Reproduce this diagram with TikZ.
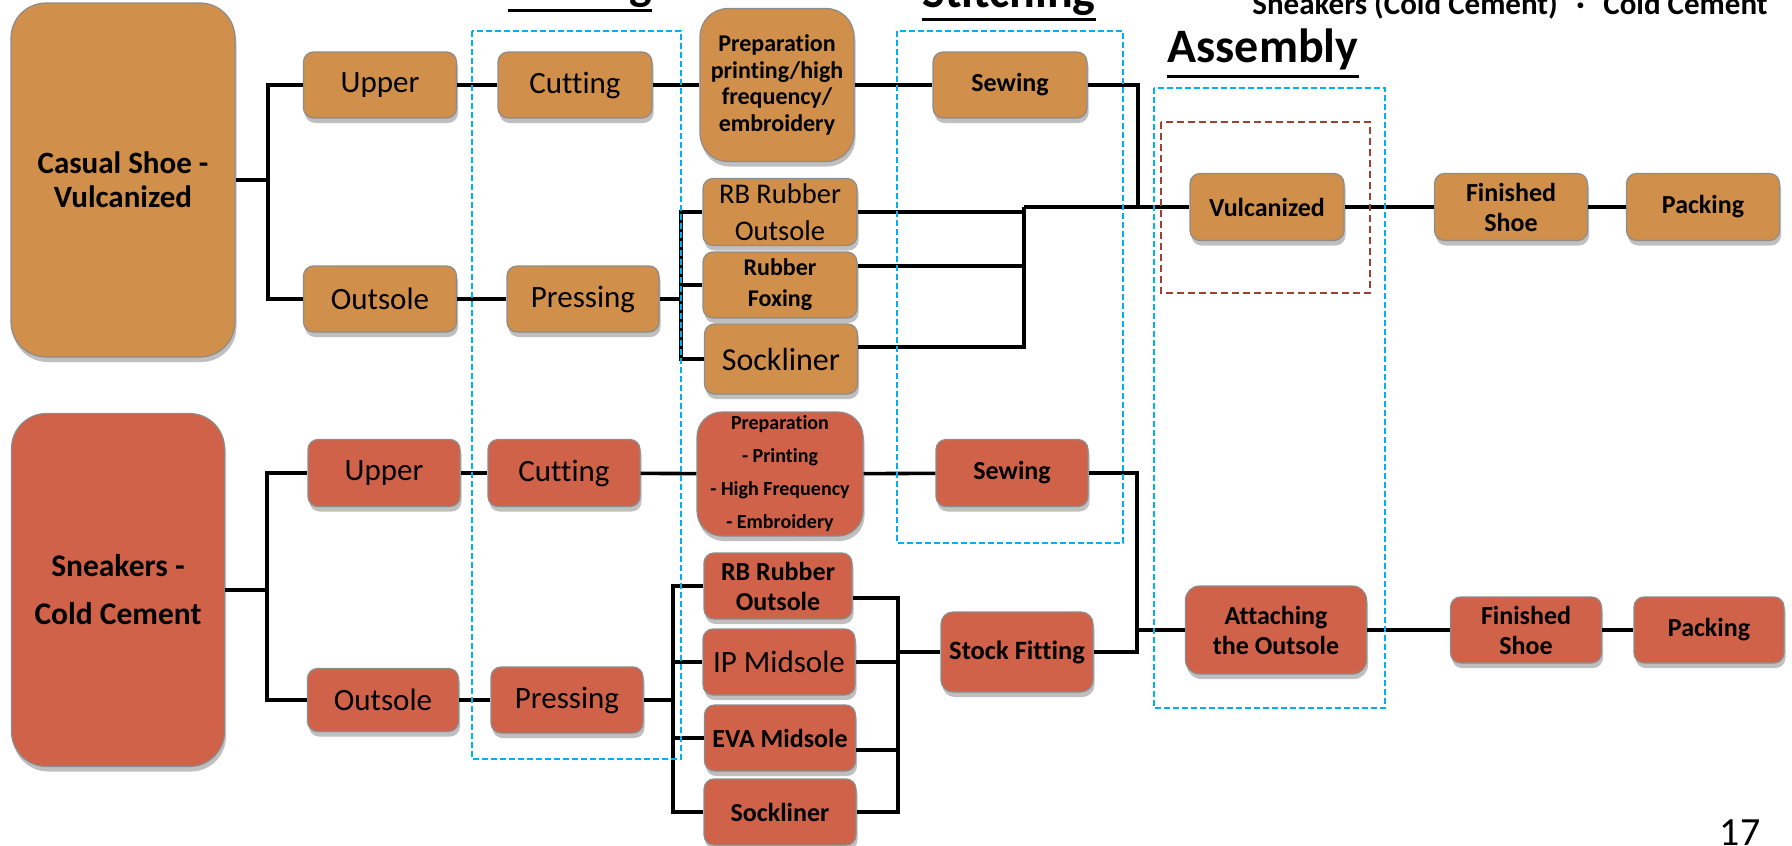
\documentclass[tikz,border=0pt]{standalone}
\usepackage{fontspec}
\setmainfont{Carlito}[Ligatures={NoCommon}]
\usetikzlibrary{shadows}
\definecolor{topc}{RGB}{208,143,74}
\definecolor{botc}{RGB}{208,98,74}
\definecolor{dcyan}{RGB}{0,176,240}
\definecolor{dbrown}{RGB}{160,64,48}
\tikzset{
  pbox/.style={draw=black!45, line width=1.2pt, rounded corners=#1, align=center, inner sep=0pt,
    drop shadow={shadow xshift=1.5pt, shadow yshift=-5pt, opacity=0.25, fill=black}},
  pbox/.default=10pt,
  ob/.style={pbox=#1, fill=topc}, ob/.default=10pt,
  redbox/.style={pbox=#1, fill=botc}, redbox/.default=10pt,
  wh/.style 2 args={minimum width=#1pt, minimum height=#2pt},
  conn/.style={draw=black, line width=3.6pt},
  dcy/.style={draw=dcyan, line width=2pt, dash pattern=on 6pt off 3pt},
  dbr/.style={draw=dbrown, line width=2pt, dash pattern=on 7pt off 4pt},
  fR/.style={font=\fontsize{31}{36}\selectfont},
  fB/.style={font=\fontsize{26}{30}\selectfont\bfseries},
  head/.style={font=\fontsize{48}{52}\selectfont\bfseries, anchor=base, inner sep=0pt},
  uline/.style={draw=black, line width=3pt},
}
\begin{document}
\begin{tikzpicture}[x=1pt, y=-1pt]
\useasboundingbox (0,0) rectangle (1792,846);
\clip (0,0) rectangle (1792,846);

% ---------- top row (vulcanized) ----------
\node[ob=35pt, wh={224}{354}, font=\fontsize{31}{34}\selectfont\bfseries] (cas) at (123,180) {Casual Shoe -\\Vulcanized};
\node[ob, wh={153}{66}, fR] (up1) at (380,85) {Upper};
\node[ob, wh={154}{66}, fR] (cut1) at (575,85) {Cutting};
\node[ob, wh={153}{66}, fR] (out1) at (380,299) {Outsole};
\node[ob, wh={152}{66}, fR] (pre1) at (583,299) {Pressing};
\node[ob=28pt, wh={154}{153}, font=\fontsize{24}{26.5}\selectfont\bfseries] (prep1) at (777,85) {Preparation\\printing/high\\frequency/\\embroidery};
\node[ob, wh={154}{66}, fB] (sew1) at (1010,85) {Sewing};
\node[ob, wh={154}{67}, font=\fontsize{28.5}{37}\selectfont] (rbo1) at (780,212) {RB Rubber\\Outsole};
\node[ob, wh={154}{66}, font=\fontsize{24}{31}\selectfont\bfseries] (fox1) at (780,285) {Rubber\\Foxing};
\node[ob, wh={153}{70}, font=\fontsize{32}{36}\selectfont] (sock1) at (781,359) {Sockliner};
\node[ob, wh={154}{67}, fB] (vul) at (1267,207) {Vulcanized};
\node[ob, wh={153}{67}, fB] (fin1) at (1511,207) {Finished\\Shoe};
\node[ob, wh={153}{67}, fB] (pack1) at (1703,207) {Packing};

% ---------- bottom row (cold cement) ----------
\node[redbox=35pt, wh={213}{353}, font=\fontsize{31.5}{48}\selectfont\bfseries] (snk) at (118,590) {Sneakers -\\Cold Cement};
\node[redbox, wh={152}{67}, fR] (up2) at (384,473) {Upper};
\node[redbox, wh={152}{67}, fR] (cut2) at (564,473) {Cutting};
\node[redbox, wh={151}{63}, fR] (out2) at (383,700) {Outsole};
\node[redbox, wh={152}{66}, fR] (pre2) at (567,700) {Pressing};
\node[redbox=25pt, wh={166}{124}, font=\fontsize{20}{33}\selectfont\bfseries] (prep2) at (780,474) {Preparation\\- Printing\\- High Frequency\\- Embroidery};
\node[redbox, wh={152}{67}, fB] (sew2) at (1012,473) {Sewing};
\node[redbox, wh={148}{66}, fB] (rbo2) at (778,586) {RB Rubber\\Outsole};
\node[redbox, wh={152}{66}, fR] (ip) at (779,662) {IP Midsole};
\node[redbox, wh={151}{66}, fB] (eva) at (780,738) {EVA Midsole};
\node[redbox, wh={152}{66}, fB] (sock2) at (780,812) {Sockliner};
\node[redbox=12pt, wh={152}{80}, font=\fontsize{26.5}{30}\selectfont\bfseries] (stock) at (1017,652) {Stock Fitting};
\node[redbox=14pt, wh={181}{88}, fB] (att) at (1276,630) {Attaching\\the Outsole};
\node[redbox, wh={151}{66}, fB] (fin2) at (1526,630) {Finished\\Shoe};
\node[redbox, wh={150}{66}, fB] (pack2) at (1709,630) {Packing};

% ---------- connectors top ----------
\coordinate (j1) at (268,180);
\draw[conn] (cas.east) -- (j1);
\draw[conn] (j1) |- (up1.west);
\draw[conn] (j1) |- (out1.west);
\draw[conn] (up1) -- (cut1);
\draw[conn] (cut1) -- (prep1);
\draw[conn] (prep1) -- (sew1);
\draw[conn] (out1) -- (pre1);
\coordinate (j2) at (681,299);
\draw[conn] (pre1.east) -- (j2);
\draw[conn] (j2) |- (rbo1.west);
\draw[conn] (j2) |- (fox1.west);
\draw[conn] (j2) |- (sock1.west);
\coordinate (j3) at (1024,207);
\draw[conn] (rbo1.east) -| (j3);
\draw[conn] ([yshift=19pt]fox1.east) -| (j3);
\draw[conn] ([yshift=12pt]sock1.east) -| (j3);
\draw[conn] (j3) -- (vul.west);
\coordinate (j4) at (1138,207);
\draw[conn] (sew1.east) -| (j4);
\draw[conn] (vul) -- (fin1);
\draw[conn] (fin1) -- (pack1);

% ---------- connectors bottom ----------
\coordinate (j5) at (267,590);
\draw[conn] (snk.east) -- (j5);
\draw[conn] (j5) |- (up2.west);
\draw[conn] (j5) |- (out2.west);
\draw[conn] (up2) -- (cut2);
\draw[conn] (cut2) -- (prep2);
\draw[conn] (prep2) -- (sew2);
\draw[conn] (out2) -- (pre2);
\coordinate (j6) at (673,700);
\draw[conn] (pre2.east) -- (j6);
\draw[conn] (j6) |- (rbo2.west);
\draw[conn] (j6) |- (ip.west);
\draw[conn] (j6) |- (eva.west);
\draw[conn] (j6) |- (sock2.west);
\coordinate (j7) at (898,652);
\draw[conn] ([yshift=-12pt]rbo2.east) -| (j7);
\draw[conn] (ip.east) -| (j7);
\draw[conn] ([yshift=-12pt]eva.east) -| (j7);
\draw[conn] (sock2.east) -| (j7);
\draw[conn] (j7) -- (stock.west);
\coordinate (j8) at (1137,630);
\draw[conn] (stock.east) -| (j8);
\draw[conn] (sew2.east) -| (j8);
\draw[conn] (j8) -- (att.west);
\draw[conn] (att) -- (fin2);
\draw[conn] (fin2) -- (pack2);

% ---------- stage frames ----------
\draw[dcy] (472,31) rectangle (681,759);
\draw[dcy] (897,31) rectangle (1123,543);
\draw[dcy] (1154,88) rectangle (1385,708);
\draw[dbr] (1161,122) rectangle (1370,293);

% ---------- headings ----------
\node[head] (hcut) at (580,-1) {Cutting};
\draw[uline] ([yshift=-11pt]hcut.base west) -- ([yshift=-11pt]hcut.base east);
\node[head] (hsti) at (1009,7) {Stitching};
\draw[uline] ([yshift=-12pt]hsti.base west) -- ([yshift=-12pt]hsti.base east);
\node[head] (hass) at (1263,62) {Assembly};
\draw[uline] ([yshift=-14pt]hass.base west) -- ([yshift=-14pt]hass.base east);

\node[anchor=base, inner sep=0pt, font=\fontsize{31}{34}\selectfont\bfseries] (note) at (1510,14) {Sneakers (Cold Cement)\hspace{0.6em}·\hspace{0.6em}Cold Cement};
\node[anchor=base, inner sep=0pt, font=\fontsize{40}{44}\selectfont] (pg) at (1740,845) {17};
\end{tikzpicture}
\end{document}
